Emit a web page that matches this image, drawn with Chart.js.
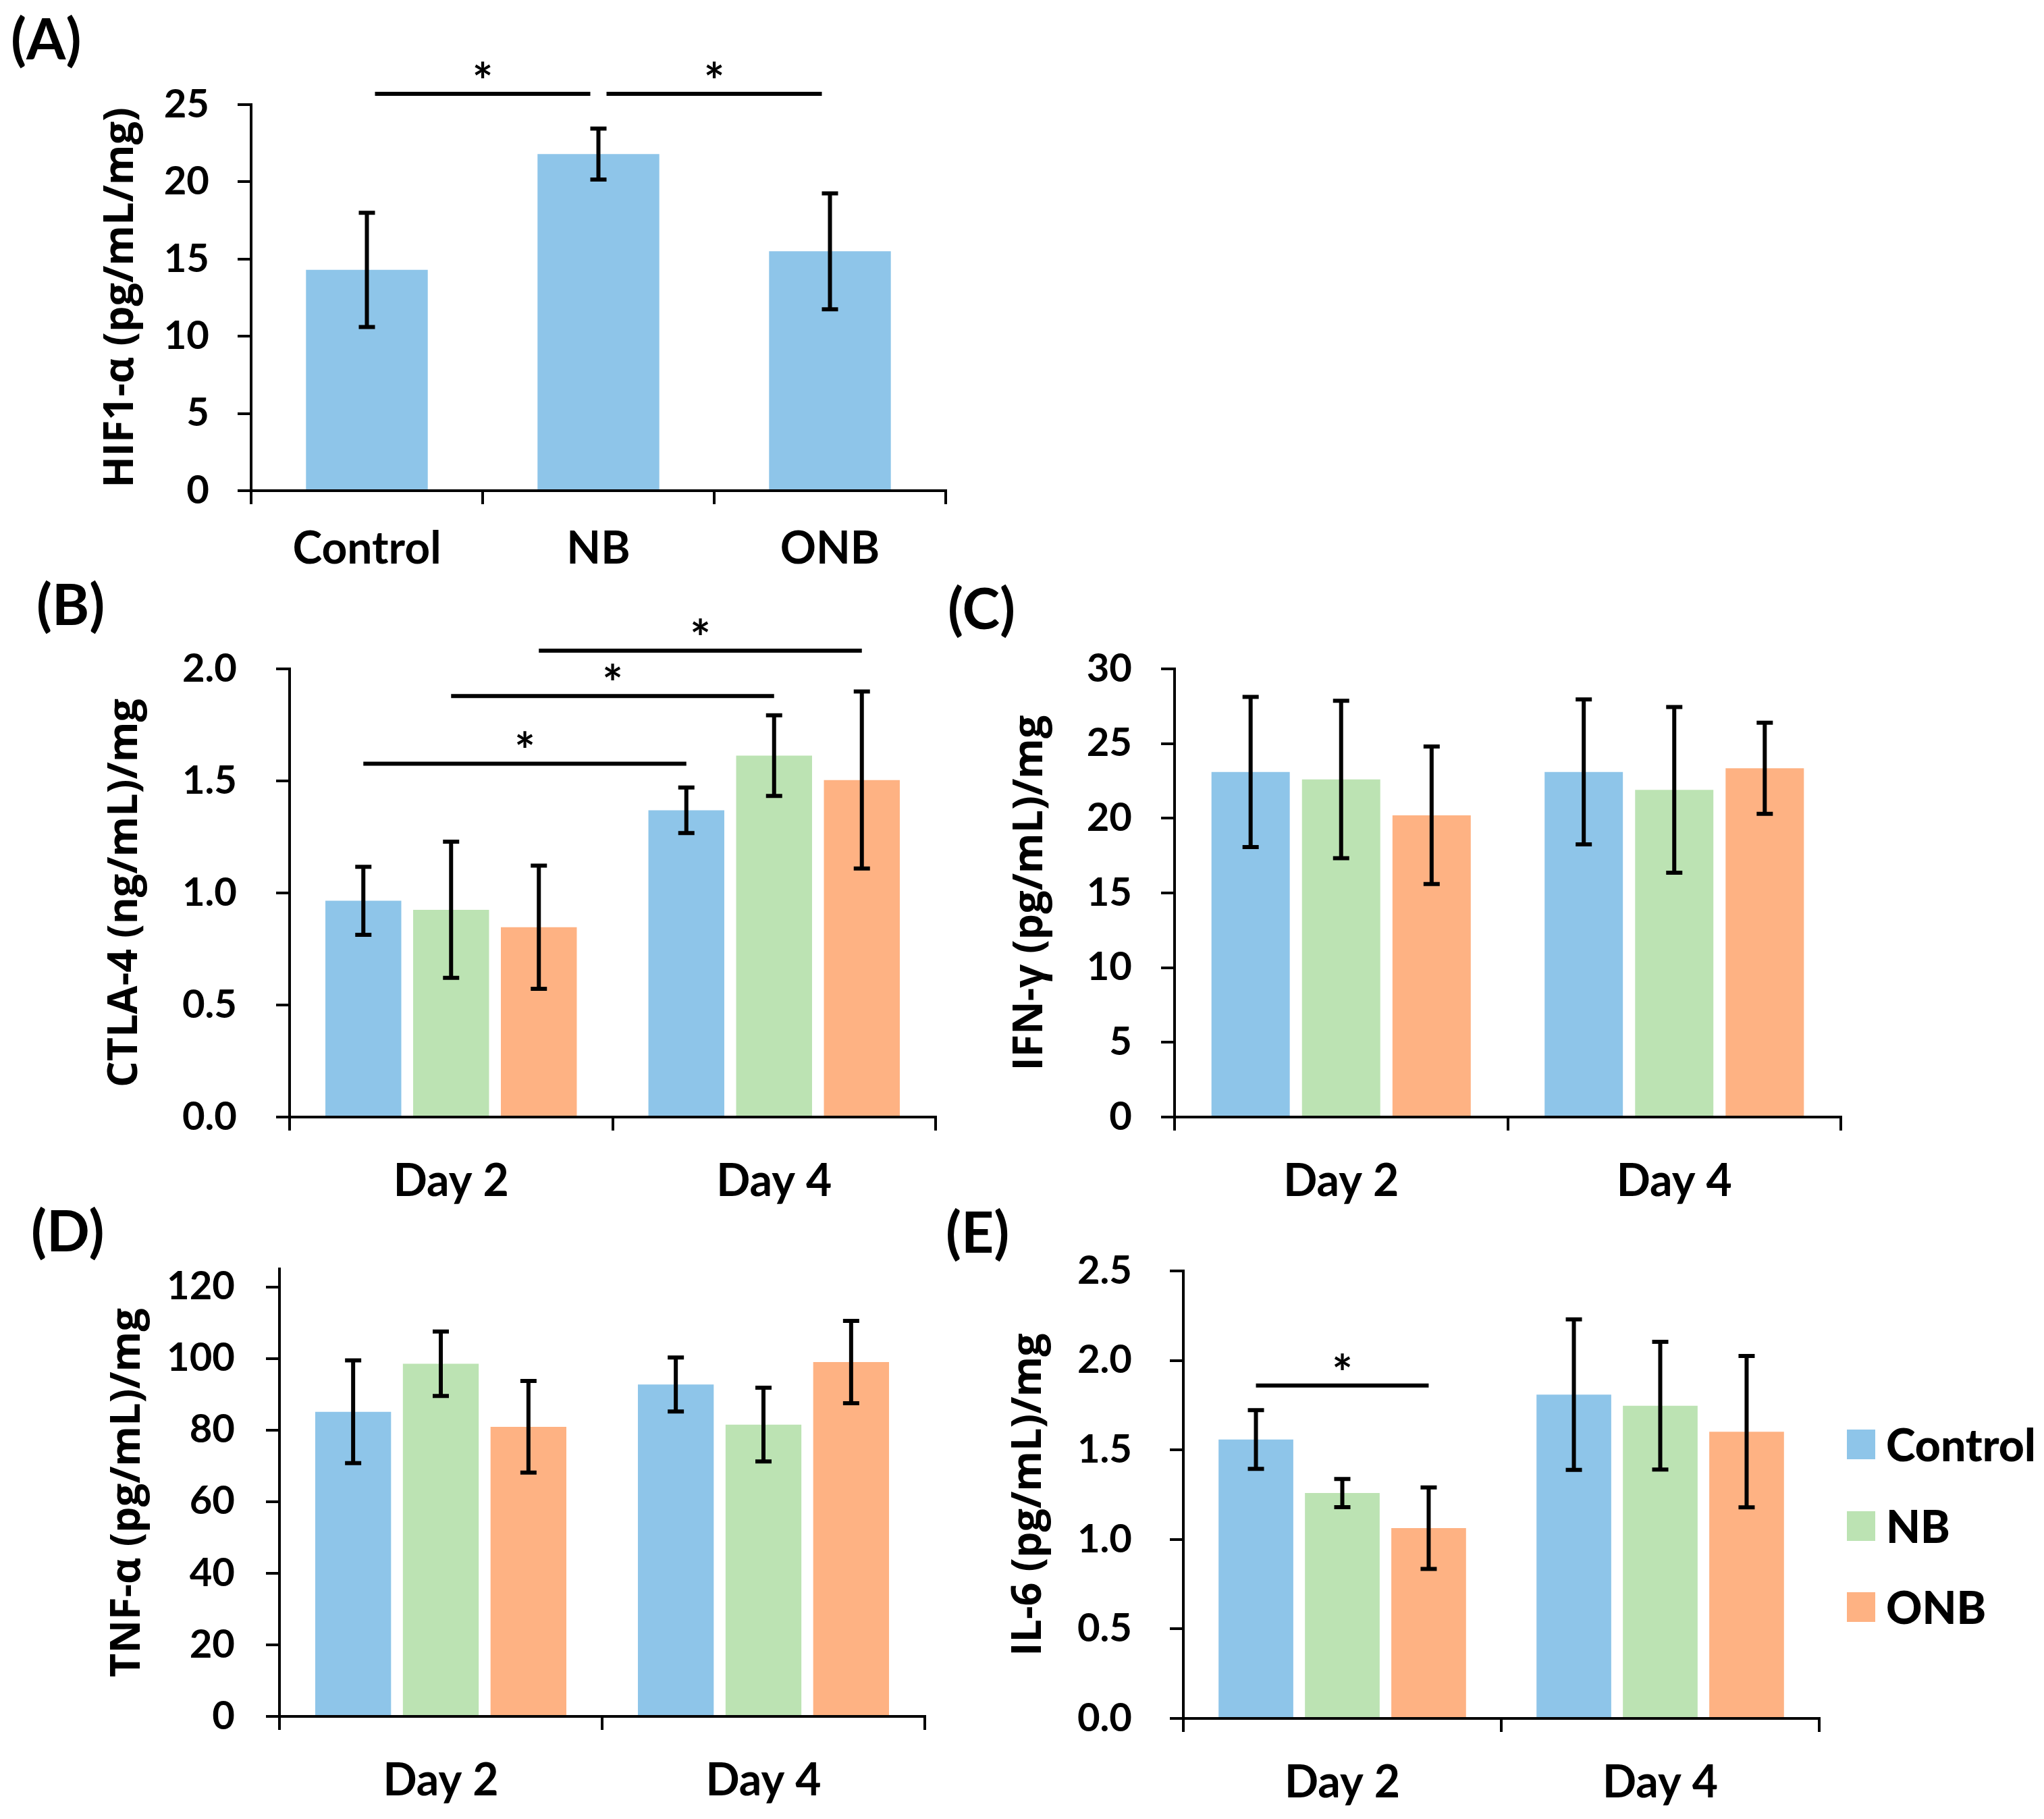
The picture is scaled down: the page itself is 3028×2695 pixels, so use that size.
<!DOCTYPE html>
<html>
<head>
<meta charset="utf-8">
<script src="https://cdn.jsdelivr.net/npm/chart.js@4.4.1/dist/chart.umd.min.js"></script>
<style>
  body { margin: 0; background: #fff; width: 3028px; height: 2695px; position: relative; overflow: hidden; }
  canvas { position: absolute; }
  .tag { position: absolute; font: bold 84px Lato, sans-serif; line-height: 1; transform: translateY(-50%); color: #000; }
  .key { position: absolute; font: bold 66px Lato, sans-serif; line-height: 1; color: #000; }
  .key span { position: absolute; left: 0; top: 0; width: 42px; height: 44px; }
  .key b { position: absolute; left: 58px; top: 50%; transform: translateY(-50%); white-space: nowrap; }
</style>
</head>
<body>
<canvas id="chartA"></canvas>
<canvas id="chartB"></canvas>
<canvas id="chartC"></canvas>
<canvas id="chartD"></canvas>
<canvas id="chartE"></canvas>
<div class="tag" style="left:16px;top:56px">(A)</div>
<div class="tag" style="left:54px;top:894px">(B)</div>
<div class="tag" style="left:1404px;top:900px">(C)</div>
<div class="tag" style="left:46px;top:1822px">(D)</div>
<div class="tag" style="left:1401px;top:1824px">(E)</div>
<div id="legend"></div>
<script>
// groups and days
var groups = ['Control', 'NB', 'ONB'];
var days = ['Day 2', 'Day 4'];

// (A) HIF1-a, one value per group
var hifMean = [14.3, 21.8, 15.5];
var hifErr = [3.7, 1.65, 3.75];

// (B)-(E): rows = Control, NB, ONB ; columns = Day 2, Day 4
var ctlaMean = [[0.965, 1.369], [0.925, 1.613], [0.847, 1.504]];
var ctlaErr = [[0.152, 0.102], [0.304, 0.18], [0.275, 0.395]];

var ifnMean = [[23.1, 23.1], [22.6, 21.9], [20.2, 23.35]];
var ifnErr = [[5.03, 4.85], [5.27, 5.55], [4.6, 3.05]];

var tnfMean = [[85.1, 92.7], [98.5, 81.5], [80.9, 99.0]];
var tnfErr = [[14.35, 7.55], [9.0, 10.3], [12.8, 11.5]];

var il6Mean = [[1.558, 1.809], [1.259, 1.747], [1.063, 1.602]];
var il6Err = [[0.164, 0.42], [0.079, 0.357], [0.2275, 0.4225]];

// significance brackets: [dataset, category] to [dataset, category] at value y
var hifStars = [{ from: [0, 0], to: [0, 1], y: 25.7 }, { from: [0, 1], to: [0, 2], y: 25.7 }];
var ctlaStars = [{ from: [0, 0], to: [0, 1], y: 1.577 }, { from: [1, 0], to: [1, 1], y: 1.879 }, { from: [2, 0], to: [2, 1], y: 2.081 }];
var il6Stars = [{ from: [0, 0], to: [2, 0], y: 1.86 }];

var colors = ['#8EC5E9', '#BCE3B3', '#FEB283'];

// error bars (mean +/- err) and significance lines with a star
var errorBars = {
  id: 'errorBars',
  afterDatasetsDraw: function(chart, args, opts) {
    var ctx = chart.ctx;
    var y = chart.scales.y;
    ctx.save();
    ctx.strokeStyle = '#000';
    ctx.lineWidth = 6;
    chart.data.datasets.forEach(function(ds, i) {
      chart.getDatasetMeta(i).data.forEach(function(bar, j) {
        var top = y.getPixelForValue(ds.data[j] + ds.errors[j]);
        var bot = y.getPixelForValue(ds.data[j] - ds.errors[j]);
        ctx.beginPath();
        ctx.moveTo(bar.x, top); ctx.lineTo(bar.x, bot);
        ctx.moveTo(bar.x - 12, top); ctx.lineTo(bar.x + 12, top);
        ctx.moveTo(bar.x - 12, bot); ctx.lineTo(bar.x + 12, bot);
        ctx.stroke();
      });
    });
    var gap = opts.gap || 0;
    ctx.fillStyle = '#000';
    ctx.font = 'bold 72px Lato';
    ctx.textAlign = 'center';
    ctx.textBaseline = 'alphabetic';
    (opts.brackets || []).forEach(function(b) {
      var x1 = chart.getDatasetMeta(b.from[0]).data[b.from[1]].x + gap;
      var x2 = chart.getDatasetMeta(b.to[0]).data[b.to[1]].x - gap;
      var py = y.getPixelForValue(b.y);
      ctx.beginPath();
      ctx.moveTo(x1, py); ctx.lineTo(x2, py);
      ctx.stroke();
      ctx.fillText('*', (x1 + x2) / 2, py + 8);
    });
    ctx.restore();
  }
};

function makePanel(id, box, labels, datasets, yCfg, brackets, gap) {
  var canvas = document.getElementById(id);
  var left = box.titleX - 37;
  var width = box.right + 16 - left;
  var height = box.canvasBottom - box.canvasTop;
  canvas.width = width;
  canvas.height = height;
  canvas.style.left = left + 'px';
  canvas.style.top = box.canvasTop + 'px';
  canvas.style.width = width + 'px';
  canvas.style.height = height + 'px';
  new Chart(canvas.getContext('2d'), {
    type: 'bar',
    data: { labels: labels, datasets: datasets },
    options: {
      responsive: false,
      animation: false,
      devicePixelRatio: 1,
      layout: { padding: { top: box.top - box.canvasTop, right: 16, left: 0, bottom: 0 } },
      plugins: {
        legend: { display: false },
        tooltip: { enabled: false },
        errorBars: { brackets: brackets, gap: gap }
      },
      scales: {
        x: {
          grid: { drawOnChartArea: false, color: '#000', lineWidth: 4, tickLength: 20 },
          border: { color: '#000', width: 4 },
          ticks: { color: '#000', font: { family: 'Lato', weight: 'bold', size: 66 }, padding: box.xPad,
                   maxRotation: 0 },
          afterFit: function(s) { s.height = box.canvasBottom - box.bottom; }
        },
        y: {
          min: 0,
          max: yCfg.max,
          grid: { drawOnChartArea: false, color: '#000', lineWidth: 4, tickLength: 20 },
          border: { color: '#000', width: 4 },
          ticks: {
            stepSize: yCfg.step, includeBounds: false, color: '#000', padding: box.yPad,
            font: { family: 'Lato', weight: 'bold', size: 58 },
            callback: function(v) { return v.toFixed(yCfg.digits); }
          },
          title: { display: true, text: yCfg.title, color: '#000', padding: 0,
                   font: { family: 'Open Sans', weight: 'bold', size: 61 } },
          afterFit: function(s) { s.width = box.left - left; }
        }
      }
    },
    plugins: [errorBars]
  });
}

function groupedSets(mean, err) {
  return groups.map(function(g, i) {
    return {
      label: g, data: mean[i], errors: err[i], backgroundColor: colors[i], borderWidth: 0,
      categoryPercentage: 0.815, barPercentage: 0.865
    };
  });
}

makePanel('chartA',
  { left: 372, top: 155, right: 1401, bottom: 727, titleX: 180, canvasTop: 60, canvasBottom: 900, xPad: 27, yPad: 42 },
  groups,
  [{ label: 'HIF1-α', data: hifMean, errors: hifErr, backgroundColor: colors[0], borderWidth: 0,
     categoryPercentage: 1, barPercentage: 0.526 }],
  { max: 25, step: 5, digits: 0, title: 'HIF1-α (pg/mL/mg)' }, hifStars, 12);

makePanel('chartB',
  { left: 429, top: 991, right: 1386, bottom: 1655, titleX: 186, canvasTop: 880, canvasBottom: 1810, xPad: 36, yPad: 58 },
  days, groupedSets(ctlaMean, ctlaErr),
  { max: 2, step: 0.5, digits: 1, title: 'CTLA-4 (ng/mL)/mg' }, ctlaStars, 0);

makePanel('chartC',
  { left: 1740, top: 991, right: 2727, bottom: 1655, titleX: 1527, canvasTop: 900, canvasBottom: 1810, xPad: 36, yPad: 43 },
  days, groupedSets(ifnMean, ifnErr),
  { max: 30, step: 5, digits: 0, title: 'IFN-γ (pg/mL)/mg' }, [], 0);

makePanel('chartD',
  { left: 414, top: 1880, right: 1370, bottom: 2543, titleX: 190, canvasTop: 1790, canvasBottom: 2695, xPad: 36, yPad: 46 },
  days, groupedSets(tnfMean, tnfErr),
  { max: 125, step: 20, digits: 0, title: 'TNF-α (pg/mL)/mg' }, [], 0);

makePanel('chartE',
  { left: 1753, top: 1883, right: 2695, bottom: 2546, titleX: 1525, canvasTop: 1790, canvasBottom: 2695, xPad: 36, yPad: 56 },
  days, groupedSets(il6Mean, il6Err),
  { max: 2.5, step: 0.5, digits: 1, title: 'IL-6 (pg/mL)/mg' }, il6Stars, 0);

// legend for the grouped panels
var legendTops = [2118, 2239, 2359];
var legend = document.getElementById('legend');
groups.forEach(function(g, i) {
  var row = document.createElement('div');
  row.className = 'key';
  row.style.left = '2736px';
  row.style.top = legendTops[i] + 'px';
  row.style.height = '44px';
  row.innerHTML = '<span style="background:' + colors[i] + '"></span><b>' + g + '</b>';
  legend.appendChild(row);
});
</script>
</body>
</html>
